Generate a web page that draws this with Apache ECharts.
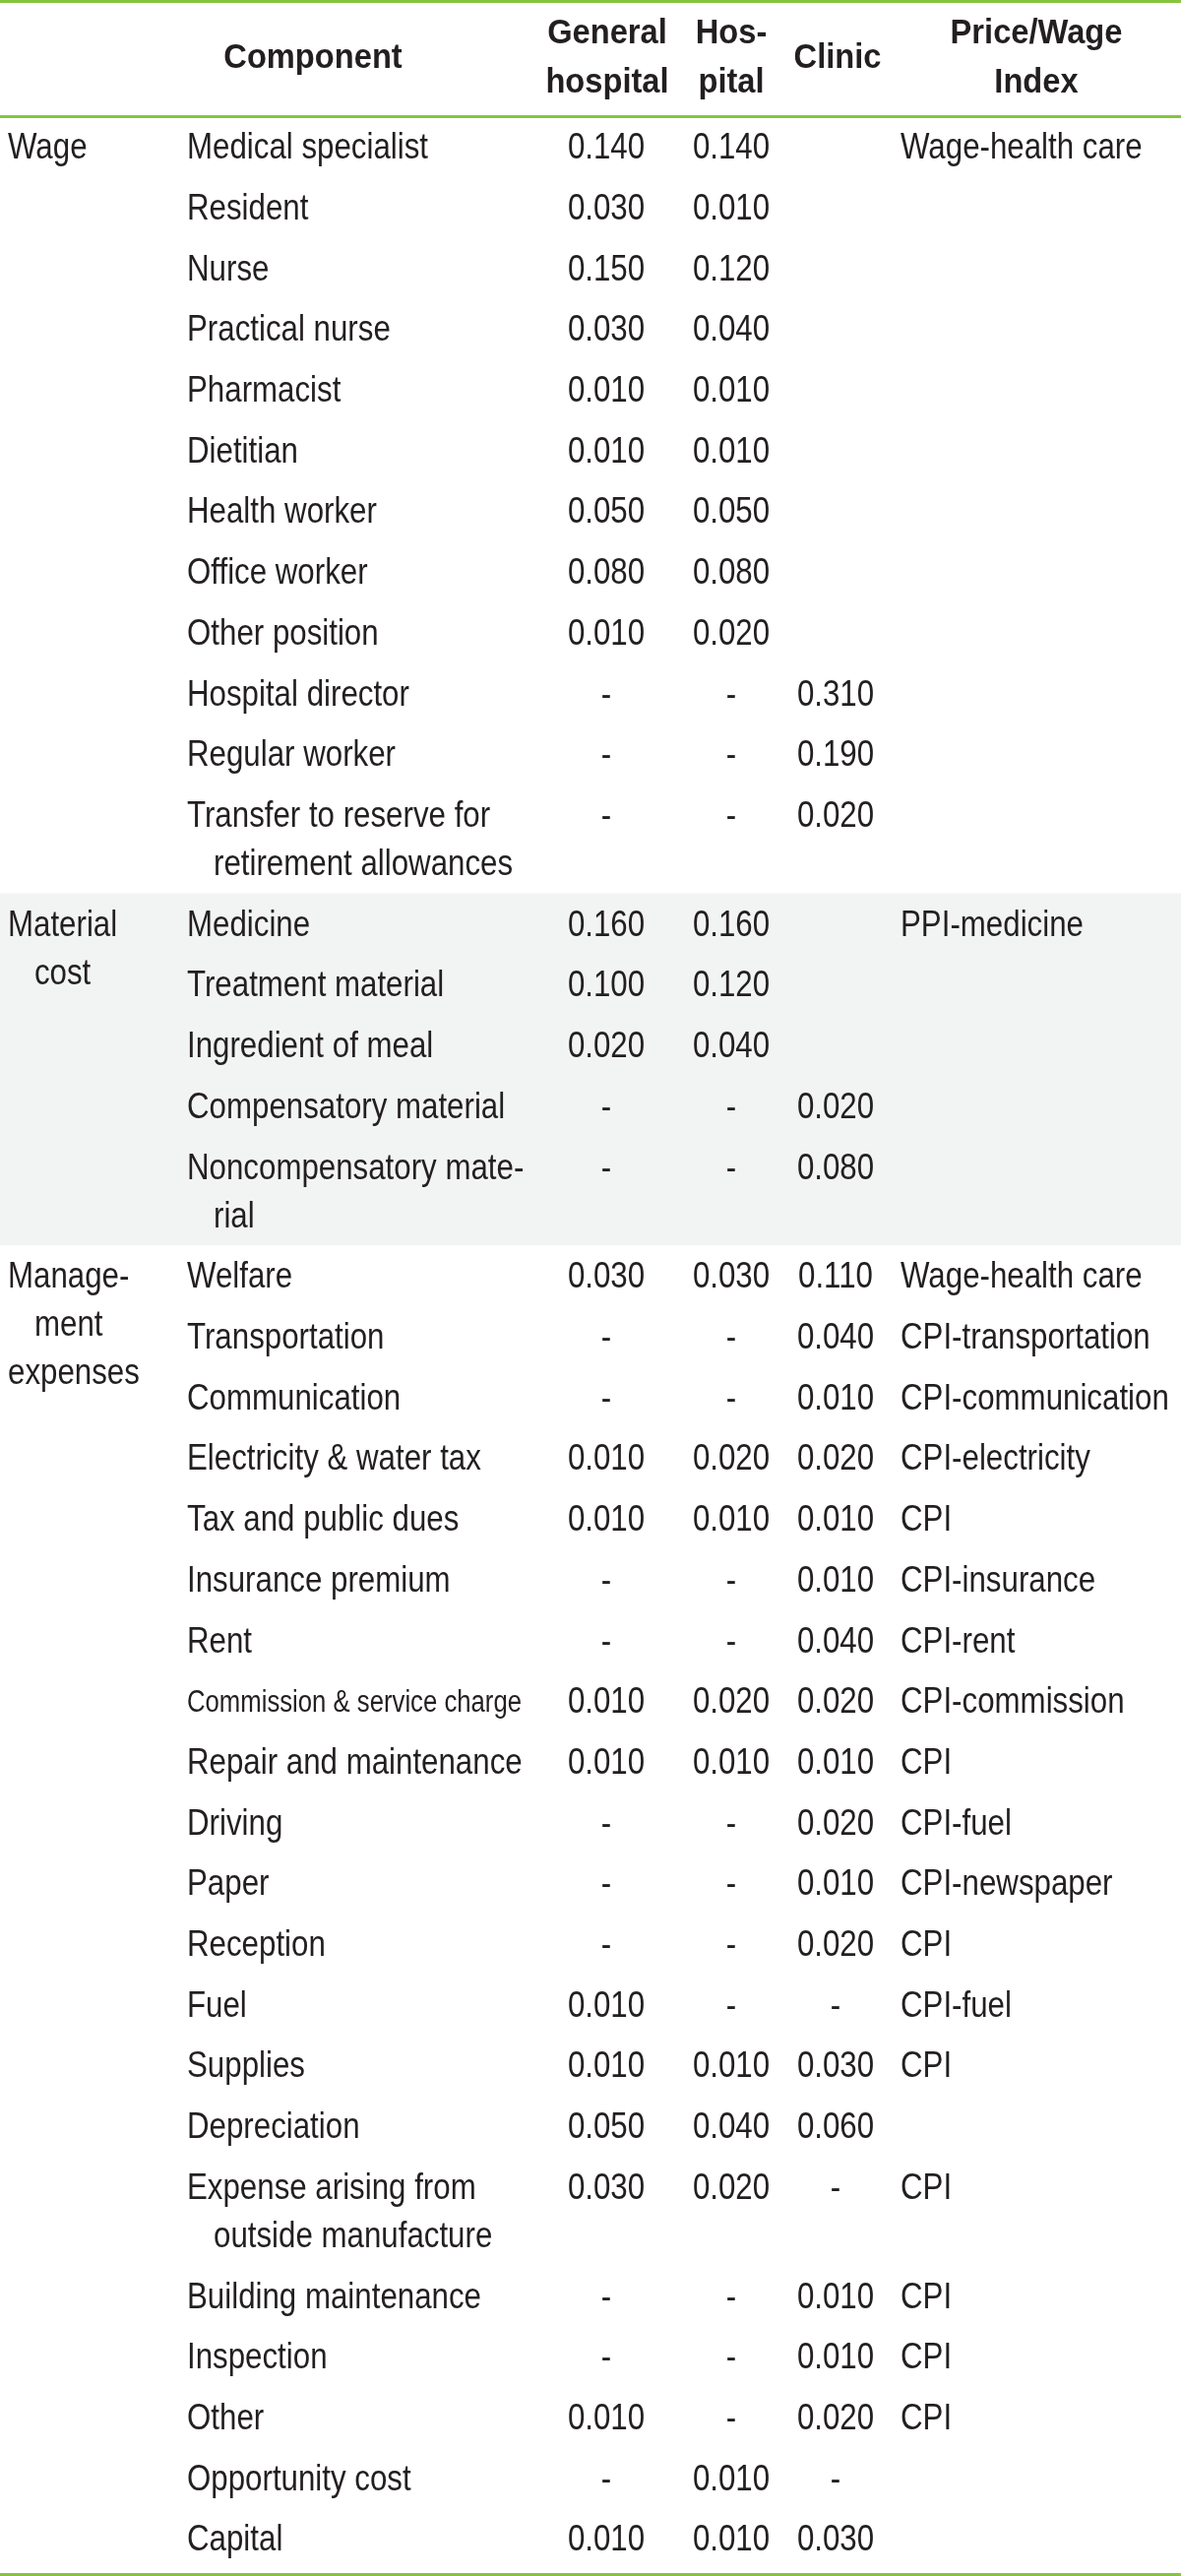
<!DOCTYPE html>
<html><head><meta charset="utf-8">
<script src="https://cdn.jsdelivr.net/npm/echarts/dist/echarts.min.js"></script>
<style>html,body{margin:0;padding:0;background:#fff}#c{width:1200px;height:2617px}</style>
</head><body><div id="c"></div>
<script>
// ---------- DATA ----------
const headers = ['Component', 'General\nhospital', 'Hos-\npital', 'Clinic', 'Price/Wage\nIndex'];
const groupNames = ['Wage', 'Material\ncost', 'Manage-\nment\nexpenses'];
const groupRowCounts = [12, 5, 21];
const components = [
  'Medical specialist','Resident','Nurse','Practical nurse','Pharmacist','Dietitian','Health worker','Office worker','Other position','Hospital director','Regular worker','Transfer to reserve for\nretirement allowances',
  'Medicine','Treatment material','Ingredient of meal','Compensatory material','Noncompensatory mate-\nrial',
  'Welfare','Transportation','Communication','Electricity & water tax','Tax and public dues','Insurance premium','Rent','Commission & service charge','Repair and maintenance','Driving','Paper','Reception','Fuel','Supplies','Depreciation','Expense arising from\noutside manufacture','Building maintenance','Inspection','Other','Opportunity cost','Capital'
];
// null = "-", '' = blank cell
const generalHospital = [
  0.140,0.030,0.150,0.030,0.010,0.010,0.050,0.080,0.010,null,null,null,
  0.160,0.100,0.020,null,null,
  0.030,null,null,0.010,0.010,null,null,0.010,0.010,null,null,null,0.010,0.010,0.050,0.030,null,null,0.010,null,0.010
];
const hospital = [
  0.140,0.010,0.120,0.040,0.010,0.010,0.050,0.080,0.020,null,null,null,
  0.160,0.120,0.040,null,null,
  0.030,null,null,0.020,0.010,null,null,0.020,0.010,null,null,null,null,0.010,0.040,0.020,null,null,null,0.010,0.010
];
const clinic = [
  '','','','','','','','','',0.310,0.190,0.020,
  '','','',0.020,0.080,
  0.110,0.040,0.010,0.020,0.010,0.010,0.040,0.020,0.010,0.020,0.010,0.020,null,0.030,0.060,null,0.010,0.010,0.020,null,0.030
];
const priceWageIndex = [
  'Wage-health care','','','','','','','','','','','',
  'PPI-medicine','','','','',
  'Wage-health care','CPI-transportation','CPI-communication','CPI-electricity','CPI','CPI-insurance','CPI-rent','CPI-commission','CPI','CPI-fuel','CPI-newspaper','CPI','CPI-fuel','CPI','','CPI','CPI','CPI','CPI','',''
];

// ---------- LAYOUT / STYLE ----------
const L = {
  green: '#86c440', shade: '#f2f4f3', ink: '#231f20',
  font: '"Liberation Sans", Arial, sans-serif',
  bodySize: 37, bodyScale: 0.845,
  headSize: 35.5, headScale: 0.92,
  lineStep: 0.795, capOffset: 0.535, padUnits: 0.09,
  catX: 8, compX: 190, compIndentX: 217, genX: 616, hosX: 743, cliX: 849, idxX: 915,
  compMaxW: 385, compFitW: 340, smallSizeFactor: 0.86,
  headCenters: [318, 617, 743, 851, 1053], headLineGap: 50,
  shadedGroups: [1]
};

const ctx = document.createElement('canvas').getContext('2d');
function measure(t, size, weight) {
  ctx.font = (weight || 'normal') + ' ' + size + 'px ' + L.font;
  return ctx.measureText(t).width;
}

// row tops in row units
const rowTops = [];
let acc = 0;
components.forEach(c => {
  rowTops.push(acc);
  acc += 1 + (c.split('\n').length - 1) * L.lineStep;
});
const totalUnits = acc + L.padUnits;
const groupStart = [];
{ let s = 0; groupRowCounts.forEach(n => { groupStart.push(s); s += n; }); }

function fmt(v) { return v === null ? '-' : (v === '' ? '' : v.toFixed(3)); }
function txt(x, y, text, align, size, sx, weight) {
  return { type: 'text', x: x, y: y, scaleX: sx, scaleY: 1, silent: true,
    style: { text: text, fontSize: size, fontFamily: L.font, fontWeight: weight || 'normal',
      fill: L.ink, align: align, verticalAlign: 'middle' } };
}

function renderRow(params, api) {
  const i = params.dataIndex;
  const top = rowTops[i];
  const yAt = n => api.coord([0, top + L.capOffset + n * L.lineStep])[1];
  const xAt = v => api.coord([v, 0])[0];
  const kids = [];
  const S = L.bodySize, SX = L.bodyScale;
  // category label
  const g = groupStart.indexOf(i);
  if (g >= 0) {
    const lines = groupNames[g].split('\n');
    const w0 = measure(lines[0], S) * SX;
    lines.forEach((t, n) => {
      const w = measure(t, S) * SX;
      if (n === 0 || w > w0) kids.push(txt(xAt(L.catX), yAt(n), t, 'left', S, SX));
      else kids.push(txt(xAt(L.catX) + w0 / 2, yAt(n), t, 'center', S, SX));
    });
  }
  // component
  components[i].split('\n').forEach((t, n) => {
    let size = S, sx = SX;
    if (measure(t, S) * SX > L.compMaxW) {
      size = S * L.smallSizeFactor;
      sx = Math.min(SX, L.compFitW / measure(t, size));
    }
    kids.push(txt(xAt(n === 0 ? L.compX : L.compIndentX), yAt(n), t, 'left', size, sx));
  });
  // values
  [[generalHospital, L.genX], [hospital, L.hosX], [clinic, L.cliX]].forEach(([arr, x]) => {
    const s = fmt(arr[i]);
    if (s) kids.push(txt(xAt(x), yAt(0), s, 'center', S, SX));
  });
  if (priceWageIndex[i]) kids.push(txt(xAt(L.idxX), yAt(0), priceWageIndex[i], 'left', S, SX));
  return { type: 'group', children: kids };
}

function renderBand(params, api) {
  const g = L.shadedGroups[params.dataIndex];
  const s = groupStart[g], e = s + groupRowCounts[g];
  const y0 = rowTops[s], y1 = e < rowTops.length ? rowTops[e] : totalUnits - L.padUnits;
  const p0 = api.coord([0, y0]), p1 = api.coord([1200, y1]);
  return { type: 'rect', silent: true, shape: { x: p0[0], y: p0[1], width: p1[0] - p0[0], height: p1[1] - p0[1] },
    style: { fill: L.shade } };
}

function renderHeader(params, api) {
  const i = params.dataIndex;
  const c = api.coord([L.headCenters[i], 0.5]);
  const lines = headers[i].split('\n');
  return { type: 'group', children: lines.map((t, n) =>
    txt(c[0], c[1] + (n - (lines.length - 1) / 2) * L.headLineGap, t, 'center', L.headSize, L.headScale, 'bold')) };
}

const hiddenX = (pos, grid, showLine) => ({
  type: 'value', min: 0, max: 1200, gridIndex: grid, position: pos,
  axisLine: { show: showLine, onZero: false, lineStyle: { color: L.green, width: 3 } },
  axisTick: { show: false }, axisLabel: { show: false }, splitLine: { show: false }
});

const chart = echarts.init(document.getElementById('c'), null, { renderer: 'canvas' });
chart.setOption({
  animation: false,
  backgroundColor: '#fff',
  grid: [
    { left: 0, right: 0, top: 118, bottom: 1.5 },
    { left: 0, right: 0, top: 1, height: 117 }
  ],
  xAxis: [hiddenX('bottom', 0, true), hiddenX('top', 0, true), hiddenX('top', 1, true)],
  yAxis: [
    { type: 'value', gridIndex: 0, inverse: true, min: 0, max: totalUnits, show: false },
    { type: 'value', gridIndex: 1, inverse: true, min: 0, max: 1, show: false }
  ],
  series: [
    { type: 'custom', xAxisIndex: 0, yAxisIndex: 0, z: 1, renderItem: renderBand,
      data: L.shadedGroups.map(g => [0, rowTops[groupStart[g]]]) },
    { type: 'custom', xAxisIndex: 0, yAxisIndex: 0, z: 2, renderItem: renderRow,
      data: components.map((c, i) => [0, rowTops[i]]) },
    { type: 'custom', xAxisIndex: 2, yAxisIndex: 1, z: 2, renderItem: renderHeader,
      data: headers.map((h, i) => [L.headCenters[i], 0.5]) }
  ]
});
</script>
</body></html>
